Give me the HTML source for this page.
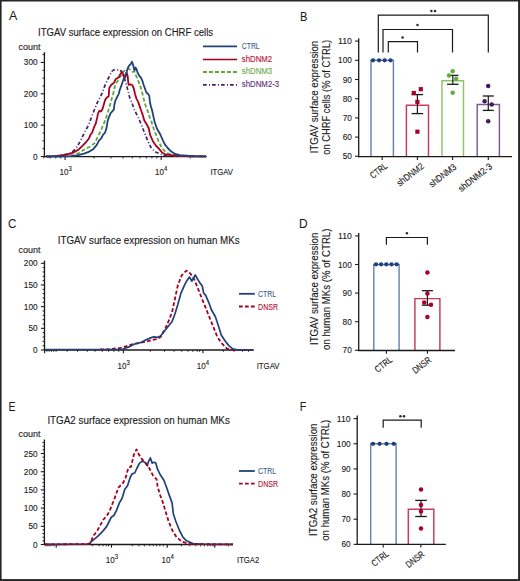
<!DOCTYPE html>
<html><head><meta charset="utf-8"><style>
html,body{margin:0;padding:0;background:#fff;}
body{width:520px;height:581px;overflow:hidden;}
svg{display:block;font-family:"Liberation Sans",sans-serif;}
</style></head><body>
<svg width="520" height="581" viewBox="0 0 520 581">
<rect width="520" height="581" fill="#fff"/>
<text x="9.00" y="20.40" font-size="12.4" fill="#1a1a1a" stroke="#1a1a1a" stroke-width="0.05" text-anchor="start">A</text>
<text x="38.10" y="35.70" font-size="10" fill="#1a1a1a" stroke="#1a1a1a" stroke-width="0.12" text-anchor="start" textLength="175.00" lengthAdjust="spacingAndGlyphs">ITGAV surface expression on CHRF cells</text>
<text x="18.40" y="49.60" font-size="9.2" fill="#1a1a1a" stroke="#1a1a1a" stroke-width="0.12" text-anchor="start" textLength="22.00" lengthAdjust="spacingAndGlyphs">count</text>
<line x1="44.40" y1="52.10" x2="44.40" y2="157.10" stroke="#1a1a1a" stroke-width="1.3"/>
<line x1="40.80" y1="156.50" x2="44.40" y2="156.50" stroke="#1a1a1a" stroke-width="1.1"/>
<text x="37.60" y="159.50" font-size="9.6" fill="#1a1a1a" stroke="#1a1a1a" stroke-width="0.12" text-anchor="end" textLength="4.60" lengthAdjust="spacingAndGlyphs">0</text>
<line x1="42.50" y1="148.66" x2="44.40" y2="148.66" stroke="#1a1a1a" stroke-width="1.0"/>
<line x1="42.50" y1="140.82" x2="44.40" y2="140.82" stroke="#1a1a1a" stroke-width="1.0"/>
<line x1="42.50" y1="132.99" x2="44.40" y2="132.99" stroke="#1a1a1a" stroke-width="1.0"/>
<line x1="40.80" y1="125.15" x2="44.40" y2="125.15" stroke="#1a1a1a" stroke-width="1.1"/>
<text x="37.60" y="128.15" font-size="9.6" fill="#1a1a1a" stroke="#1a1a1a" stroke-width="0.12" text-anchor="end" textLength="13.80" lengthAdjust="spacingAndGlyphs">100</text>
<line x1="42.50" y1="117.31" x2="44.40" y2="117.31" stroke="#1a1a1a" stroke-width="1.0"/>
<line x1="42.50" y1="109.47" x2="44.40" y2="109.47" stroke="#1a1a1a" stroke-width="1.0"/>
<line x1="42.50" y1="101.64" x2="44.40" y2="101.64" stroke="#1a1a1a" stroke-width="1.0"/>
<line x1="40.80" y1="93.80" x2="44.40" y2="93.80" stroke="#1a1a1a" stroke-width="1.1"/>
<text x="37.60" y="96.80" font-size="9.6" fill="#1a1a1a" stroke="#1a1a1a" stroke-width="0.12" text-anchor="end" textLength="13.80" lengthAdjust="spacingAndGlyphs">200</text>
<line x1="42.50" y1="85.96" x2="44.40" y2="85.96" stroke="#1a1a1a" stroke-width="1.0"/>
<line x1="42.50" y1="78.12" x2="44.40" y2="78.12" stroke="#1a1a1a" stroke-width="1.0"/>
<line x1="42.50" y1="70.29" x2="44.40" y2="70.29" stroke="#1a1a1a" stroke-width="1.0"/>
<line x1="40.80" y1="62.45" x2="44.40" y2="62.45" stroke="#1a1a1a" stroke-width="1.1"/>
<text x="37.60" y="65.45" font-size="9.6" fill="#1a1a1a" stroke="#1a1a1a" stroke-width="0.12" text-anchor="end" textLength="13.80" lengthAdjust="spacingAndGlyphs">300</text>
<line x1="42.50" y1="54.61" x2="44.40" y2="54.61" stroke="#1a1a1a" stroke-width="1.0"/>
<line x1="44.40" y1="156.70" x2="206.70" y2="156.70" stroke="#1a1a1a" stroke-width="1.3"/>
<line x1="65.10" y1="156.70" x2="65.10" y2="159.90" stroke="#1a1a1a" stroke-width="1.1"/>
<line x1="161.20" y1="156.70" x2="161.20" y2="159.90" stroke="#1a1a1a" stroke-width="1.1"/>
<line x1="43.78" y1="156.70" x2="43.78" y2="158.50" stroke="#1a1a1a" stroke-width="0.9"/>
<line x1="50.21" y1="156.70" x2="50.21" y2="158.50" stroke="#1a1a1a" stroke-width="0.9"/>
<line x1="55.79" y1="156.70" x2="55.79" y2="158.50" stroke="#1a1a1a" stroke-width="0.9"/>
<line x1="60.70" y1="156.70" x2="60.70" y2="158.50" stroke="#1a1a1a" stroke-width="0.9"/>
<line x1="94.03" y1="156.70" x2="94.03" y2="158.50" stroke="#1a1a1a" stroke-width="0.9"/>
<line x1="110.95" y1="156.70" x2="110.95" y2="158.50" stroke="#1a1a1a" stroke-width="0.9"/>
<line x1="122.96" y1="156.70" x2="122.96" y2="158.50" stroke="#1a1a1a" stroke-width="0.9"/>
<line x1="132.27" y1="156.70" x2="132.27" y2="158.50" stroke="#1a1a1a" stroke-width="0.9"/>
<line x1="139.88" y1="156.70" x2="139.88" y2="158.50" stroke="#1a1a1a" stroke-width="0.9"/>
<line x1="146.31" y1="156.70" x2="146.31" y2="158.50" stroke="#1a1a1a" stroke-width="0.9"/>
<line x1="151.89" y1="156.70" x2="151.89" y2="158.50" stroke="#1a1a1a" stroke-width="0.9"/>
<line x1="156.80" y1="156.70" x2="156.80" y2="158.50" stroke="#1a1a1a" stroke-width="0.9"/>
<line x1="190.13" y1="156.70" x2="190.13" y2="158.50" stroke="#1a1a1a" stroke-width="0.9"/>
<text x="59.60" y="174.80" font-size="9.4" fill="#1a1a1a" stroke="#1a1a1a" stroke-width="0.12" text-anchor="start" textLength="8.90" lengthAdjust="spacingAndGlyphs">10</text>
<text x="68.60" y="171.40" font-size="6.4" fill="#1a1a1a" stroke="#1a1a1a" stroke-width="0.12" text-anchor="start" textLength="3.30" lengthAdjust="spacingAndGlyphs">3</text>
<text x="155.00" y="174.80" font-size="9.4" fill="#1a1a1a" stroke="#1a1a1a" stroke-width="0.12" text-anchor="start" textLength="8.90" lengthAdjust="spacingAndGlyphs">10</text>
<text x="164.00" y="171.40" font-size="6.4" fill="#1a1a1a" stroke="#1a1a1a" stroke-width="0.12" text-anchor="start" textLength="3.30" lengthAdjust="spacingAndGlyphs">4</text>
<text x="210.40" y="174.80" font-size="9.2" fill="#1a1a1a" stroke="#1a1a1a" stroke-width="0.12" text-anchor="start" textLength="22.60" lengthAdjust="spacingAndGlyphs">ITGAV</text>
<polyline points="46.0,156.4 50.4,156.3 58.5,155.7 66.5,154.3 71.9,152.3 76.0,148.3 79.3,142.9 82.7,136.2 85.4,130.8 87.5,127.0 88.9,124.6 90.9,118.8 92.8,113.6 94.7,109.2 96.6,104.4 98.6,99.6 100.5,96.7 102.9,91.4 103.7,88.7 105.6,83.8 108.0,79.0 110.4,74.2 112.3,70.9 113.8,69.9 116.2,69.9 119.0,69.9 120.5,70.9 121.9,71.3 122.9,73.8 123.8,77.1 125.3,81.0 126.7,85.8 127.7,89.6 129.6,97.3 132.0,103.1 134.4,109.8 136.8,114.6 139.2,119.4 140.1,121.7 142.8,128.5 145.5,135.2 148.2,141.9 151.5,148.6 155.6,152.0 160.3,154.0 163.6,155.4 175.0,156.2 206.0,156.4" fill="none" stroke="#4a1f6e" stroke-width="1.7" stroke-linejoin="round" stroke-dasharray="3.7,2.3,1.0,2.0"/>
<polyline points="46.0,156.4 60.0,156.3 67.9,156.1 74.6,155.0 80.0,152.3 85.4,148.9 90.8,146.2 94.8,142.9 96.8,138.8 98.8,134.8 100.9,130.8 102.9,125.4 103.8,123.7 105.8,118.8 107.2,114.0 108.7,109.2 110.1,104.4 111.5,99.6 113.0,94.8 114.2,88.7 115.7,83.8 117.6,81.0 120.0,77.1 121.9,74.2 123.8,71.3 125.8,69.4 128.2,68.5 130.6,69.9 132.5,71.8 134.4,71.3 136.3,76.2 138.3,81.0 139.9,84.8 141.6,90.6 143.1,96.3 144.5,102.1 146.0,106.9 147.9,111.7 149.8,117.5 150.8,119.9 151.5,121.7 153.6,128.5 156.2,135.2 158.9,141.9 162.3,148.6 166.3,152.7 171.7,154.7 177.1,155.6 190.0,156.2 206.0,156.4" fill="none" stroke="#5fa838" stroke-width="1.8" stroke-linejoin="round" stroke-dasharray="3.9,2.2"/>
<polyline points="46.0,156.4 55.8,156.1 63.8,155.0 70.6,153.6 75.3,151.6 79.3,148.9 82.7,145.6 86.0,142.2 88.7,138.8 90.8,134.1 92.1,132.8 93.5,128.7 95.0,125.0 95.7,123.7 97.1,117.9 98.1,113.1 99.5,110.7 101.0,111.6 102.4,109.2 103.8,104.4 105.3,99.6 106.7,97.7 108.7,96.3 109.1,90.0 109.4,87.7 111.3,84.8 112.8,83.8 114.2,82.4 115.7,79.0 117.6,78.1 119.0,77.1 120.2,74.2 121.7,72.3 122.9,73.8 123.8,76.6 124.8,78.1 125.8,75.2 126.7,72.8 127.7,76.2 128.2,81.9 128.7,84.8 130.6,84.3 132.5,85.3 133.9,88.7 134.9,93.5 136.3,98.3 138.3,102.1 139.7,106.4 141.2,110.8 142.6,114.6 144.0,119.4 144.3,120.4 146.8,124.4 148.8,128.5 150.2,135.2 152.9,141.2 156.2,146.0 158.9,148.6 162.3,152.7 166.3,154.7 173.1,155.4 181.1,155.8 195.0,156.3 206.0,156.4" fill="none" stroke="#a6001f" stroke-width="1.8" stroke-linejoin="round"/>
<polyline points="46.0,156.5 60.0,156.3 70.6,156.1 77.3,155.3 84.0,153.6 89.4,151.6 93.5,148.9 96.8,144.9 98.8,140.9 101.5,138.2 102.9,134.8 104.9,132.8 106.2,129.4 106.9,125.6 107.7,120.8 109.1,116.9 110.6,113.1 112.5,111.2 113.9,109.2 114.4,104.4 115.4,100.6 117.3,96.7 118.8,93.8 119.7,90.0 121.0,86.7 122.9,81.0 124.8,76.2 126.7,71.8 128.2,67.0 129.6,65.1 131.1,63.7 132.0,61.7 133.0,64.6 134.4,70.4 135.4,67.5 136.3,68.5 137.3,71.8 139.2,75.7 141.2,78.1 142.6,81.4 143.6,84.8 145.0,88.7 146.4,92.5 148.4,94.4 149.3,95.9 149.8,101.2 150.8,106.0 152.2,110.8 153.2,115.6 154.1,119.4 154.6,121.7 156.9,128.5 160.3,134.5 163.0,140.6 165.0,144.6 167.7,148.0 171.0,151.3 175.1,154.0 179.8,155.1 186.5,155.6 195.0,156.2 206.0,156.4" fill="none" stroke="#21417a" stroke-width="1.8" stroke-linejoin="round"/>
<line x1="203.00" y1="46.30" x2="237.00" y2="46.30" stroke="#21417a" stroke-width="1.7"/>
<line x1="203.00" y1="59.50" x2="237.00" y2="59.50" stroke="#a6001f" stroke-width="1.7"/>
<line x1="203.00" y1="72.00" x2="237.00" y2="72.00" stroke="#5fa838" stroke-width="1.8" stroke-dasharray="3.9,2.1"/>
<line x1="203.00" y1="84.90" x2="237.00" y2="84.90" stroke="#4a1f6e" stroke-width="1.7" stroke-dasharray="3.7,2.3,1.0,2.0"/>
<text x="241.80" y="49.40" font-size="8.8" fill="#3d5d96" stroke="#3d5d96" stroke-width="0.12" text-anchor="start" textLength="17.80" lengthAdjust="spacingAndGlyphs">CTRL</text>
<text x="241.80" y="61.60" font-size="8.8" fill="#b5123a" stroke="#b5123a" stroke-width="0.12" text-anchor="start" textLength="30.40" lengthAdjust="spacingAndGlyphs">shDNM2</text>
<text x="241.80" y="74.40" font-size="8.8" fill="#6cac4c" stroke="#6cac4c" stroke-width="0.12" text-anchor="start" textLength="30.40" lengthAdjust="spacingAndGlyphs">shDNM3</text>
<text x="241.80" y="87.30" font-size="8.8" fill="#5a2f7c" stroke="#5a2f7c" stroke-width="0.12" text-anchor="start" textLength="37.40" lengthAdjust="spacingAndGlyphs">shDNM2-3</text>
<text x="299.90" y="20.60" font-size="12.4" fill="#1a1a1a" stroke="#1a1a1a" stroke-width="0.05" text-anchor="start" textLength="7.40" lengthAdjust="spacingAndGlyphs">B</text>
<line x1="358.70" y1="38.30" x2="358.70" y2="157.30" stroke="#1a1a1a" stroke-width="1.3"/>
<line x1="355.10" y1="41.10" x2="358.70" y2="41.10" stroke="#1a1a1a" stroke-width="1.1"/>
<text x="351.90" y="44.10" font-size="9.6" fill="#1a1a1a" stroke="#1a1a1a" stroke-width="0.12" text-anchor="end" textLength="13.80" lengthAdjust="spacingAndGlyphs">110</text>
<line x1="355.10" y1="60.30" x2="358.70" y2="60.30" stroke="#1a1a1a" stroke-width="1.1"/>
<text x="351.90" y="63.30" font-size="9.6" fill="#1a1a1a" stroke="#1a1a1a" stroke-width="0.12" text-anchor="end" textLength="13.80" lengthAdjust="spacingAndGlyphs">100</text>
<line x1="355.10" y1="79.50" x2="358.70" y2="79.50" stroke="#1a1a1a" stroke-width="1.1"/>
<text x="351.90" y="82.50" font-size="9.6" fill="#1a1a1a" stroke="#1a1a1a" stroke-width="0.12" text-anchor="end" textLength="9.20" lengthAdjust="spacingAndGlyphs">90</text>
<line x1="355.10" y1="98.70" x2="358.70" y2="98.70" stroke="#1a1a1a" stroke-width="1.1"/>
<text x="351.90" y="101.70" font-size="9.6" fill="#1a1a1a" stroke="#1a1a1a" stroke-width="0.12" text-anchor="end" textLength="9.20" lengthAdjust="spacingAndGlyphs">80</text>
<line x1="355.10" y1="117.90" x2="358.70" y2="117.90" stroke="#1a1a1a" stroke-width="1.1"/>
<text x="351.90" y="120.90" font-size="9.6" fill="#1a1a1a" stroke="#1a1a1a" stroke-width="0.12" text-anchor="end" textLength="9.20" lengthAdjust="spacingAndGlyphs">70</text>
<line x1="355.10" y1="137.10" x2="358.70" y2="137.10" stroke="#1a1a1a" stroke-width="1.1"/>
<text x="351.90" y="140.10" font-size="9.6" fill="#1a1a1a" stroke="#1a1a1a" stroke-width="0.12" text-anchor="end" textLength="9.20" lengthAdjust="spacingAndGlyphs">60</text>
<line x1="355.10" y1="156.30" x2="358.70" y2="156.30" stroke="#1a1a1a" stroke-width="1.1"/>
<text x="351.90" y="159.30" font-size="9.6" fill="#1a1a1a" stroke="#1a1a1a" stroke-width="0.12" text-anchor="end" textLength="9.20" lengthAdjust="spacingAndGlyphs">50</text>
<path d="M371,156.7 V60.3 H393.4 V156.7" fill="none" stroke="#6a84b0" stroke-width="1.45"/>
<path d="M406.4,156.7 V105.3 H428.5 V156.7" fill="none" stroke="#c63a5e" stroke-width="1.45"/>
<path d="M442.0,156.7 V80.8 H463.5 V156.7" fill="none" stroke="#8cc46c" stroke-width="1.45"/>
<path d="M477.2,156.7 V104.4 H499.4 V156.7" fill="none" stroke="#7d5a98" stroke-width="1.45"/>
<line x1="358.10" y1="156.70" x2="512.00" y2="156.70" stroke="#1a1a1a" stroke-width="1.3"/>
<line x1="382.20" y1="156.70" x2="382.20" y2="159.90" stroke="#1a1a1a" stroke-width="1.1"/>
<line x1="417.40" y1="156.70" x2="417.40" y2="159.90" stroke="#1a1a1a" stroke-width="1.1"/>
<line x1="452.60" y1="156.70" x2="452.60" y2="159.90" stroke="#1a1a1a" stroke-width="1.1"/>
<line x1="488.30" y1="156.70" x2="488.30" y2="159.90" stroke="#1a1a1a" stroke-width="1.1"/>
<circle cx="373" cy="60.3" r="2.15" fill="#1d3f7c"/>
<circle cx="379.1" cy="60.3" r="2.15" fill="#1d3f7c"/>
<circle cx="384.7" cy="60.3" r="2.15" fill="#1d3f7c"/>
<circle cx="390.5" cy="60.3" r="2.15" fill="#1d3f7c"/>
<line x1="417.40" y1="94.60" x2="417.40" y2="113.60" stroke="#1a1a1a" stroke-width="1.2"/>
<line x1="411.65" y1="94.60" x2="423.15" y2="94.60" stroke="#1a1a1a" stroke-width="1.3"/>
<line x1="411.65" y1="113.60" x2="423.15" y2="113.60" stroke="#1a1a1a" stroke-width="1.3"/>
<rect x="411.7" y="90.9" width="4.2" height="4.2" fill="#a8002a"/>
<rect x="418.7" y="87.10000000000001" width="4.2" height="4.2" fill="#a8002a"/>
<rect x="415.29999999999995" y="99.80000000000001" width="4.2" height="4.2" fill="#a8002a"/>
<rect x="415.29999999999995" y="129.6" width="4.2" height="4.2" fill="#a8002a"/>
<line x1="452.80" y1="75.40" x2="452.80" y2="84.30" stroke="#1a1a1a" stroke-width="1.2"/>
<line x1="447.10" y1="75.40" x2="458.50" y2="75.40" stroke="#1a1a1a" stroke-width="1.3"/>
<line x1="447.10" y1="84.30" x2="458.50" y2="84.30" stroke="#1a1a1a" stroke-width="1.3"/>
<circle cx="452.7" cy="71.2" r="2.25" fill="#5fae3e"/>
<circle cx="449" cy="75.4" r="2.25" fill="#5fae3e"/>
<circle cx="456.2" cy="78.7" r="2.25" fill="#5fae3e"/>
<circle cx="452.7" cy="92.7" r="2.25" fill="#5fae3e"/>
<line x1="488.30" y1="96.00" x2="488.30" y2="110.40" stroke="#1a1a1a" stroke-width="1.2"/>
<line x1="482.80" y1="96.00" x2="493.80" y2="96.00" stroke="#1a1a1a" stroke-width="1.3"/>
<line x1="482.80" y1="110.40" x2="493.80" y2="110.40" stroke="#1a1a1a" stroke-width="1.3"/>
<circle cx="488.2" cy="86" r="2.25" fill="#44185f"/>
<circle cx="484.6" cy="101.3" r="2.25" fill="#44185f"/>
<circle cx="491.7" cy="104.6" r="2.25" fill="#44185f"/>
<circle cx="488.2" cy="121.2" r="2.25" fill="#44185f"/>
<path d="M378.3,52.5 V15.1 H488.3 V52.5" fill="none" stroke="#1a1a1a" stroke-width="1.2"/>
<path d="M383.0,52.5 V29.5 H452.5 V52.5" fill="none" stroke="#1a1a1a" stroke-width="1.2"/>
<path d="M388.3,52.5 V41.6 H417.5 V52.5" fill="none" stroke="#1a1a1a" stroke-width="1.2"/>
<circle cx="431.40" cy="10.9" r="1.25" fill="#2a2a2a"/>
<circle cx="435.00" cy="10.9" r="1.25" fill="#2a2a2a"/>
<circle cx="417.50" cy="25.0" r="1.25" fill="#2a2a2a"/>
<circle cx="402.60" cy="37.4" r="1.25" fill="#2a2a2a"/>
<text transform="translate(388.0,167.35) rotate(-38)" font-size="9.4" fill="#1a1a1a" stroke="#1a1a1a" stroke-width="0.12" text-anchor="end" textLength="18.92" lengthAdjust="spacingAndGlyphs">CTRL</text>
<text transform="translate(424.5,167.45) rotate(-38)" font-size="9.4" fill="#1a1a1a" stroke="#1a1a1a" stroke-width="0.12" text-anchor="end" textLength="31.53" lengthAdjust="spacingAndGlyphs">shDNM2</text>
<text transform="translate(457.05,168.15) rotate(-38)" font-size="9.4" fill="#1a1a1a" stroke="#1a1a1a" stroke-width="0.12" text-anchor="end" textLength="31.85" lengthAdjust="spacingAndGlyphs">shDNM3</text>
<text transform="translate(492.85,167.65) rotate(-38)" font-size="9.4" fill="#1a1a1a" stroke="#1a1a1a" stroke-width="0.12" text-anchor="end" textLength="40.09" lengthAdjust="spacingAndGlyphs">shDNM2-3</text>
<text transform="translate(318.2,97.05) rotate(-90)" font-size="10.4" fill="#1a1a1a" stroke="#1a1a1a" stroke-width="0.12" text-anchor="middle" textLength="112.60" lengthAdjust="spacingAndGlyphs">ITGAV surface expression</text>
<text transform="translate(330.3,97.4) rotate(-90)" font-size="10.4" fill="#1a1a1a" stroke="#1a1a1a" stroke-width="0.12" text-anchor="middle" textLength="114.80" lengthAdjust="spacingAndGlyphs">on CHRF cells (% of CTRL)</text>
<text x="8.00" y="228.30" font-size="12.4" fill="#1a1a1a" stroke="#1a1a1a" stroke-width="0.05" text-anchor="start" textLength="8.40" lengthAdjust="spacingAndGlyphs">C</text>
<text x="57.70" y="244.10" font-size="10" fill="#1a1a1a" stroke="#1a1a1a" stroke-width="0.12" text-anchor="start" textLength="182.00" lengthAdjust="spacingAndGlyphs">ITGAV surface expression on human MKs</text>
<text x="18.40" y="252.70" font-size="9.2" fill="#1a1a1a" stroke="#1a1a1a" stroke-width="0.12" text-anchor="start" textLength="22.00" lengthAdjust="spacingAndGlyphs">count</text>
<line x1="44.50" y1="260.60" x2="44.50" y2="350.60" stroke="#1a1a1a" stroke-width="1.3"/>
<line x1="40.90" y1="350.00" x2="44.50" y2="350.00" stroke="#1a1a1a" stroke-width="1.1"/>
<text x="37.60" y="353.00" font-size="9.6" fill="#1a1a1a" stroke="#1a1a1a" stroke-width="0.12" text-anchor="end" textLength="4.60" lengthAdjust="spacingAndGlyphs">0</text>
<line x1="42.60" y1="345.67" x2="44.50" y2="345.67" stroke="#1a1a1a" stroke-width="1.0"/>
<line x1="42.60" y1="341.33" x2="44.50" y2="341.33" stroke="#1a1a1a" stroke-width="1.0"/>
<line x1="42.60" y1="337.00" x2="44.50" y2="337.00" stroke="#1a1a1a" stroke-width="1.0"/>
<line x1="42.60" y1="332.66" x2="44.50" y2="332.66" stroke="#1a1a1a" stroke-width="1.0"/>
<line x1="40.90" y1="328.32" x2="44.50" y2="328.32" stroke="#1a1a1a" stroke-width="1.1"/>
<text x="37.60" y="331.32" font-size="9.6" fill="#1a1a1a" stroke="#1a1a1a" stroke-width="0.12" text-anchor="end" textLength="9.20" lengthAdjust="spacingAndGlyphs">50</text>
<line x1="42.60" y1="323.99" x2="44.50" y2="323.99" stroke="#1a1a1a" stroke-width="1.0"/>
<line x1="42.60" y1="319.65" x2="44.50" y2="319.65" stroke="#1a1a1a" stroke-width="1.0"/>
<line x1="42.60" y1="315.32" x2="44.50" y2="315.32" stroke="#1a1a1a" stroke-width="1.0"/>
<line x1="42.60" y1="310.99" x2="44.50" y2="310.99" stroke="#1a1a1a" stroke-width="1.0"/>
<line x1="40.90" y1="306.65" x2="44.50" y2="306.65" stroke="#1a1a1a" stroke-width="1.1"/>
<text x="37.60" y="309.65" font-size="9.6" fill="#1a1a1a" stroke="#1a1a1a" stroke-width="0.12" text-anchor="end" textLength="13.80" lengthAdjust="spacingAndGlyphs">100</text>
<line x1="42.60" y1="302.31" x2="44.50" y2="302.31" stroke="#1a1a1a" stroke-width="1.0"/>
<line x1="42.60" y1="297.98" x2="44.50" y2="297.98" stroke="#1a1a1a" stroke-width="1.0"/>
<line x1="42.60" y1="293.64" x2="44.50" y2="293.64" stroke="#1a1a1a" stroke-width="1.0"/>
<line x1="42.60" y1="289.31" x2="44.50" y2="289.31" stroke="#1a1a1a" stroke-width="1.0"/>
<line x1="40.90" y1="284.98" x2="44.50" y2="284.98" stroke="#1a1a1a" stroke-width="1.1"/>
<text x="37.60" y="287.98" font-size="9.6" fill="#1a1a1a" stroke="#1a1a1a" stroke-width="0.12" text-anchor="end" textLength="13.80" lengthAdjust="spacingAndGlyphs">150</text>
<line x1="42.60" y1="280.64" x2="44.50" y2="280.64" stroke="#1a1a1a" stroke-width="1.0"/>
<line x1="42.60" y1="276.31" x2="44.50" y2="276.31" stroke="#1a1a1a" stroke-width="1.0"/>
<line x1="42.60" y1="271.97" x2="44.50" y2="271.97" stroke="#1a1a1a" stroke-width="1.0"/>
<line x1="42.60" y1="267.63" x2="44.50" y2="267.63" stroke="#1a1a1a" stroke-width="1.0"/>
<line x1="40.90" y1="263.30" x2="44.50" y2="263.30" stroke="#1a1a1a" stroke-width="1.1"/>
<text x="37.60" y="266.30" font-size="9.6" fill="#1a1a1a" stroke="#1a1a1a" stroke-width="0.12" text-anchor="end" textLength="13.80" lengthAdjust="spacingAndGlyphs">200</text>
<line x1="44.50" y1="350.00" x2="253.50" y2="350.00" stroke="#1a1a1a" stroke-width="1.3"/>
<line x1="44.60" y1="350.00" x2="44.60" y2="353.20" stroke="#1a1a1a" stroke-width="1.1"/>
<line x1="123.40" y1="350.00" x2="123.40" y2="353.20" stroke="#1a1a1a" stroke-width="1.1"/>
<line x1="202.90" y1="350.00" x2="202.90" y2="353.20" stroke="#1a1a1a" stroke-width="1.1"/>
<line x1="46.90" y1="350.00" x2="46.90" y2="351.80" stroke="#1a1a1a" stroke-width="0.9"/>
<line x1="49.20" y1="350.00" x2="49.20" y2="351.80" stroke="#1a1a1a" stroke-width="0.9"/>
<line x1="51.50" y1="350.00" x2="51.50" y2="351.80" stroke="#1a1a1a" stroke-width="0.9"/>
<line x1="53.80" y1="350.00" x2="53.80" y2="351.80" stroke="#1a1a1a" stroke-width="0.9"/>
<line x1="56.10" y1="350.00" x2="56.10" y2="351.80" stroke="#1a1a1a" stroke-width="0.9"/>
<line x1="67.10" y1="350.00" x2="67.10" y2="351.80" stroke="#1a1a1a" stroke-width="0.9"/>
<line x1="77.50" y1="350.00" x2="77.50" y2="351.80" stroke="#1a1a1a" stroke-width="0.9"/>
<line x1="87.30" y1="350.00" x2="87.30" y2="351.80" stroke="#1a1a1a" stroke-width="0.9"/>
<line x1="95.10" y1="350.00" x2="95.10" y2="351.80" stroke="#1a1a1a" stroke-width="0.9"/>
<line x1="102.30" y1="350.00" x2="102.30" y2="351.80" stroke="#1a1a1a" stroke-width="0.9"/>
<line x1="108.60" y1="350.00" x2="108.60" y2="351.80" stroke="#1a1a1a" stroke-width="0.9"/>
<line x1="113.80" y1="350.00" x2="113.80" y2="351.80" stroke="#1a1a1a" stroke-width="0.9"/>
<line x1="118.70" y1="350.00" x2="118.70" y2="351.80" stroke="#1a1a1a" stroke-width="0.9"/>
<line x1="150.30" y1="350.00" x2="150.30" y2="351.80" stroke="#1a1a1a" stroke-width="0.9"/>
<line x1="164.40" y1="350.00" x2="164.40" y2="351.80" stroke="#1a1a1a" stroke-width="0.9"/>
<line x1="174.10" y1="350.00" x2="174.10" y2="351.80" stroke="#1a1a1a" stroke-width="0.9"/>
<line x1="181.80" y1="350.00" x2="181.80" y2="351.80" stroke="#1a1a1a" stroke-width="0.9"/>
<line x1="188.10" y1="350.00" x2="188.10" y2="351.80" stroke="#1a1a1a" stroke-width="0.9"/>
<line x1="192.90" y1="350.00" x2="192.90" y2="351.80" stroke="#1a1a1a" stroke-width="0.9"/>
<line x1="197.20" y1="350.00" x2="197.20" y2="351.80" stroke="#1a1a1a" stroke-width="0.9"/>
<line x1="199.60" y1="350.00" x2="199.60" y2="351.80" stroke="#1a1a1a" stroke-width="0.9"/>
<line x1="223.40" y1="350.00" x2="223.40" y2="351.80" stroke="#1a1a1a" stroke-width="0.9"/>
<line x1="234.00" y1="350.00" x2="234.00" y2="351.80" stroke="#1a1a1a" stroke-width="0.9"/>
<line x1="242.40" y1="350.00" x2="242.40" y2="351.80" stroke="#1a1a1a" stroke-width="0.9"/>
<line x1="248.50" y1="350.00" x2="248.50" y2="351.80" stroke="#1a1a1a" stroke-width="0.9"/>
<text x="117.50" y="368.50" font-size="9.4" fill="#1a1a1a" stroke="#1a1a1a" stroke-width="0.12" text-anchor="start" textLength="8.90" lengthAdjust="spacingAndGlyphs">10</text>
<text x="126.50" y="365.10" font-size="6.4" fill="#1a1a1a" stroke="#1a1a1a" stroke-width="0.12" text-anchor="start" textLength="3.30" lengthAdjust="spacingAndGlyphs">3</text>
<text x="196.80" y="368.50" font-size="9.4" fill="#1a1a1a" stroke="#1a1a1a" stroke-width="0.12" text-anchor="start" textLength="8.90" lengthAdjust="spacingAndGlyphs">10</text>
<text x="205.80" y="365.10" font-size="6.4" fill="#1a1a1a" stroke="#1a1a1a" stroke-width="0.12" text-anchor="start" textLength="3.30" lengthAdjust="spacingAndGlyphs">4</text>
<text x="256.70" y="368.60" font-size="9.2" fill="#1a1a1a" stroke="#1a1a1a" stroke-width="0.12" text-anchor="start" textLength="22.80" lengthAdjust="spacingAndGlyphs">ITGAV</text>
<polyline points="100.0,349.5 106.9,349.5 113.8,348.6 119.6,348.1 124.2,346.9 128.8,345.2 134.6,343.7 140.4,342.9 146.1,341.7 151.9,340.0 156.7,339.2 160.6,336.9 165.4,328.3 169.2,319.6 172.1,311.9 175.0,298.5 177.9,285.0 181.7,275.4 186.5,270.6 190.4,273.5 194.2,279.2 198.1,288.8 201.9,298.5 205.8,308.1 209.6,317.7 213.5,327.3 217.3,336.9 221.2,342.7 226.9,348.5 232.7,350.0 253.7,350.0" fill="none" stroke="#a6001f" stroke-width="1.8" stroke-linejoin="round" stroke-dasharray="3.8,2.2"/>
<polyline points="45.0,349.5 100.0,349.5 117.3,349.5 123.1,349.0 128.8,346.9 134.6,344.0 139.2,342.9 141.5,342.3 146.1,339.8 150.7,337.9 153.8,336.9 157.7,337.3 160.6,336.0 164.4,331.2 168.3,326.3 172.1,321.5 175.0,313.8 177.9,304.2 180.8,293.7 183.7,286.9 186.5,281.2 189.4,276.9 191.9,281.2 195.2,275.0 197.7,279.2 200.0,283.1 202.3,286.0 203.5,292.7 205.8,295.6 208.7,302.3 211.5,310.0 215.4,316.7 218.3,325.4 221.2,335.0 225.0,340.8 228.8,345.6 232.7,348.8 238.5,350.0 253.7,350.0" fill="none" stroke="#21417a" stroke-width="1.7" stroke-linejoin="round"/>
<line x1="239.00" y1="293.80" x2="254.80" y2="293.80" stroke="#21417a" stroke-width="1.8"/>
<line x1="239.00" y1="306.50" x2="254.80" y2="306.50" stroke="#a6001f" stroke-width="1.8" stroke-dasharray="3.7,2.3"/>
<text x="258.10" y="296.80" font-size="8.8" fill="#3d5d96" stroke="#3d5d96" stroke-width="0.12" text-anchor="start" textLength="18.00" lengthAdjust="spacingAndGlyphs">CTRL</text>
<text x="258.10" y="309.50" font-size="8.8" fill="#b5123a" stroke="#b5123a" stroke-width="0.12" text-anchor="start" textLength="20.00" lengthAdjust="spacingAndGlyphs">DNSR</text>
<text x="299.10" y="227.80" font-size="12.4" fill="#1a1a1a" stroke="#1a1a1a" stroke-width="0.05" text-anchor="start" textLength="8.60" lengthAdjust="spacingAndGlyphs">D</text>
<line x1="358.70" y1="232.90" x2="358.70" y2="351.10" stroke="#1a1a1a" stroke-width="1.3"/>
<line x1="355.10" y1="235.90" x2="358.70" y2="235.90" stroke="#1a1a1a" stroke-width="1.1"/>
<text x="351.80" y="238.90" font-size="9.6" fill="#1a1a1a" stroke="#1a1a1a" stroke-width="0.12" text-anchor="end" textLength="13.80" lengthAdjust="spacingAndGlyphs">110</text>
<line x1="355.10" y1="264.50" x2="358.70" y2="264.50" stroke="#1a1a1a" stroke-width="1.1"/>
<text x="351.80" y="267.50" font-size="9.6" fill="#1a1a1a" stroke="#1a1a1a" stroke-width="0.12" text-anchor="end" textLength="13.80" lengthAdjust="spacingAndGlyphs">100</text>
<line x1="355.10" y1="293.10" x2="358.70" y2="293.10" stroke="#1a1a1a" stroke-width="1.1"/>
<text x="351.80" y="296.10" font-size="9.6" fill="#1a1a1a" stroke="#1a1a1a" stroke-width="0.12" text-anchor="end" textLength="9.20" lengthAdjust="spacingAndGlyphs">90</text>
<line x1="355.10" y1="321.70" x2="358.70" y2="321.70" stroke="#1a1a1a" stroke-width="1.1"/>
<text x="351.80" y="324.70" font-size="9.6" fill="#1a1a1a" stroke="#1a1a1a" stroke-width="0.12" text-anchor="end" textLength="9.20" lengthAdjust="spacingAndGlyphs">80</text>
<line x1="355.10" y1="350.30" x2="358.70" y2="350.30" stroke="#1a1a1a" stroke-width="1.1"/>
<text x="351.80" y="353.30" font-size="9.6" fill="#1a1a1a" stroke="#1a1a1a" stroke-width="0.12" text-anchor="end" textLength="9.20" lengthAdjust="spacingAndGlyphs">70</text>
<path d="M373.8,350.5 V264.5 H399.1 V350.5" fill="none" stroke="#6a84b0" stroke-width="1.45"/>
<path d="M414.9,350.5 V298.6 H439.9 V350.5" fill="none" stroke="#c63a5e" stroke-width="1.45"/>
<line x1="358.10" y1="350.50" x2="455.00" y2="350.50" stroke="#1a1a1a" stroke-width="1.3"/>
<line x1="386.40" y1="350.50" x2="386.40" y2="353.70" stroke="#1a1a1a" stroke-width="1.1"/>
<line x1="427.40" y1="350.50" x2="427.40" y2="353.70" stroke="#1a1a1a" stroke-width="1.1"/>
<circle cx="376" cy="264.3" r="2.15" fill="#1d3f7c"/>
<circle cx="381.1" cy="264.3" r="2.15" fill="#1d3f7c"/>
<circle cx="386.3" cy="264.3" r="2.15" fill="#1d3f7c"/>
<circle cx="391.5" cy="264.3" r="2.15" fill="#1d3f7c"/>
<circle cx="396.6" cy="264.3" r="2.15" fill="#1d3f7c"/>
<line x1="427.40" y1="290.70" x2="427.40" y2="305.20" stroke="#1a1a1a" stroke-width="1.2"/>
<line x1="421.90" y1="290.70" x2="432.90" y2="290.70" stroke="#1a1a1a" stroke-width="1.3"/>
<line x1="421.90" y1="305.20" x2="432.90" y2="305.20" stroke="#1a1a1a" stroke-width="1.3"/>
<circle cx="427.4" cy="272.4" r="2.25" fill="#a8002a"/>
<circle cx="427.4" cy="293.4" r="2.25" fill="#a8002a"/>
<circle cx="424.2" cy="302.5" r="2.25" fill="#a8002a"/>
<circle cx="431" cy="304.8" r="2.25" fill="#a8002a"/>
<circle cx="427.4" cy="316.9" r="2.25" fill="#a8002a"/>
<path d="M386.4,244.8 V237.5 H427.4 V244.8" fill="none" stroke="#1a1a1a" stroke-width="1.2"/>
<circle cx="406.90" cy="233.3" r="1.25" fill="#2a2a2a"/>
<text transform="translate(392.85,361.05) rotate(-38)" font-size="9.4" fill="#1a1a1a" stroke="#1a1a1a" stroke-width="0.12" text-anchor="end" textLength="19.23" lengthAdjust="spacingAndGlyphs">CTRL</text>
<text transform="translate(431.85,361.15) rotate(-38)" font-size="9.4" fill="#1a1a1a" stroke="#1a1a1a" stroke-width="0.12" text-anchor="end" textLength="20.83" lengthAdjust="spacingAndGlyphs">DNSR</text>
<text transform="translate(318.1,288.85) rotate(-90)" font-size="10.4" fill="#1a1a1a" stroke="#1a1a1a" stroke-width="0.12" text-anchor="middle" textLength="112.40" lengthAdjust="spacingAndGlyphs">ITGAV surface expression</text>
<text transform="translate(330.3,289.25) rotate(-90)" font-size="10.4" fill="#1a1a1a" stroke="#1a1a1a" stroke-width="0.12" text-anchor="middle" textLength="121.40" lengthAdjust="spacingAndGlyphs">on human MKs (% of CTRL)</text>
<text x="8.60" y="410.80" font-size="12.4" fill="#1a1a1a" stroke="#1a1a1a" stroke-width="0.05" text-anchor="start" textLength="7.00" lengthAdjust="spacingAndGlyphs">E</text>
<text x="47.40" y="423.50" font-size="10" fill="#1a1a1a" stroke="#1a1a1a" stroke-width="0.12" text-anchor="start" textLength="182.40" lengthAdjust="spacingAndGlyphs">ITGA2 surface expression on human MKs</text>
<text x="18.40" y="437.00" font-size="9.2" fill="#1a1a1a" stroke="#1a1a1a" stroke-width="0.12" text-anchor="start" textLength="22.00" lengthAdjust="spacingAndGlyphs">count</text>
<line x1="44.40" y1="439.50" x2="44.40" y2="545.10" stroke="#1a1a1a" stroke-width="1.3"/>
<line x1="40.80" y1="544.50" x2="44.40" y2="544.50" stroke="#1a1a1a" stroke-width="1.1"/>
<text x="37.60" y="547.50" font-size="9.6" fill="#1a1a1a" stroke="#1a1a1a" stroke-width="0.12" text-anchor="end" textLength="4.60" lengthAdjust="spacingAndGlyphs">0</text>
<line x1="42.50" y1="540.86" x2="44.40" y2="540.86" stroke="#1a1a1a" stroke-width="1.0"/>
<line x1="42.50" y1="537.22" x2="44.40" y2="537.22" stroke="#1a1a1a" stroke-width="1.0"/>
<line x1="42.50" y1="533.58" x2="44.40" y2="533.58" stroke="#1a1a1a" stroke-width="1.0"/>
<line x1="42.50" y1="529.94" x2="44.40" y2="529.94" stroke="#1a1a1a" stroke-width="1.0"/>
<line x1="40.80" y1="526.30" x2="44.40" y2="526.30" stroke="#1a1a1a" stroke-width="1.1"/>
<text x="37.60" y="529.30" font-size="9.6" fill="#1a1a1a" stroke="#1a1a1a" stroke-width="0.12" text-anchor="end" textLength="9.20" lengthAdjust="spacingAndGlyphs">50</text>
<line x1="42.50" y1="522.66" x2="44.40" y2="522.66" stroke="#1a1a1a" stroke-width="1.0"/>
<line x1="42.50" y1="519.02" x2="44.40" y2="519.02" stroke="#1a1a1a" stroke-width="1.0"/>
<line x1="42.50" y1="515.38" x2="44.40" y2="515.38" stroke="#1a1a1a" stroke-width="1.0"/>
<line x1="42.50" y1="511.74" x2="44.40" y2="511.74" stroke="#1a1a1a" stroke-width="1.0"/>
<line x1="40.80" y1="508.10" x2="44.40" y2="508.10" stroke="#1a1a1a" stroke-width="1.1"/>
<text x="37.60" y="511.10" font-size="9.6" fill="#1a1a1a" stroke="#1a1a1a" stroke-width="0.12" text-anchor="end" textLength="13.80" lengthAdjust="spacingAndGlyphs">100</text>
<line x1="42.50" y1="504.46" x2="44.40" y2="504.46" stroke="#1a1a1a" stroke-width="1.0"/>
<line x1="42.50" y1="500.82" x2="44.40" y2="500.82" stroke="#1a1a1a" stroke-width="1.0"/>
<line x1="42.50" y1="497.18" x2="44.40" y2="497.18" stroke="#1a1a1a" stroke-width="1.0"/>
<line x1="42.50" y1="493.54" x2="44.40" y2="493.54" stroke="#1a1a1a" stroke-width="1.0"/>
<line x1="40.80" y1="489.90" x2="44.40" y2="489.90" stroke="#1a1a1a" stroke-width="1.1"/>
<text x="37.60" y="492.90" font-size="9.6" fill="#1a1a1a" stroke="#1a1a1a" stroke-width="0.12" text-anchor="end" textLength="13.80" lengthAdjust="spacingAndGlyphs">150</text>
<line x1="42.50" y1="486.26" x2="44.40" y2="486.26" stroke="#1a1a1a" stroke-width="1.0"/>
<line x1="42.50" y1="482.62" x2="44.40" y2="482.62" stroke="#1a1a1a" stroke-width="1.0"/>
<line x1="42.50" y1="478.98" x2="44.40" y2="478.98" stroke="#1a1a1a" stroke-width="1.0"/>
<line x1="42.50" y1="475.34" x2="44.40" y2="475.34" stroke="#1a1a1a" stroke-width="1.0"/>
<line x1="40.80" y1="471.70" x2="44.40" y2="471.70" stroke="#1a1a1a" stroke-width="1.1"/>
<text x="37.60" y="474.70" font-size="9.6" fill="#1a1a1a" stroke="#1a1a1a" stroke-width="0.12" text-anchor="end" textLength="13.80" lengthAdjust="spacingAndGlyphs">200</text>
<line x1="42.50" y1="468.06" x2="44.40" y2="468.06" stroke="#1a1a1a" stroke-width="1.0"/>
<line x1="42.50" y1="464.42" x2="44.40" y2="464.42" stroke="#1a1a1a" stroke-width="1.0"/>
<line x1="42.50" y1="460.78" x2="44.40" y2="460.78" stroke="#1a1a1a" stroke-width="1.0"/>
<line x1="42.50" y1="457.14" x2="44.40" y2="457.14" stroke="#1a1a1a" stroke-width="1.0"/>
<line x1="40.80" y1="453.50" x2="44.40" y2="453.50" stroke="#1a1a1a" stroke-width="1.1"/>
<text x="37.60" y="456.50" font-size="9.6" fill="#1a1a1a" stroke="#1a1a1a" stroke-width="0.12" text-anchor="end" textLength="13.80" lengthAdjust="spacingAndGlyphs">250</text>
<line x1="42.50" y1="449.86" x2="44.40" y2="449.86" stroke="#1a1a1a" stroke-width="1.0"/>
<line x1="42.50" y1="446.22" x2="44.40" y2="446.22" stroke="#1a1a1a" stroke-width="1.0"/>
<line x1="42.50" y1="442.58" x2="44.40" y2="442.58" stroke="#1a1a1a" stroke-width="1.0"/>
<line x1="44.40" y1="544.50" x2="233.00" y2="544.50" stroke="#1a1a1a" stroke-width="1.3"/>
<line x1="56.20" y1="544.50" x2="56.20" y2="547.70" stroke="#1a1a1a" stroke-width="1.1"/>
<line x1="111.50" y1="544.50" x2="111.50" y2="547.70" stroke="#1a1a1a" stroke-width="1.1"/>
<line x1="167.20" y1="544.50" x2="167.20" y2="547.70" stroke="#1a1a1a" stroke-width="1.1"/>
<line x1="214.80" y1="544.50" x2="214.80" y2="547.70" stroke="#1a1a1a" stroke-width="1.1"/>
<line x1="45.40" y1="544.50" x2="45.40" y2="546.30" stroke="#1a1a1a" stroke-width="0.9"/>
<line x1="47.70" y1="544.50" x2="47.70" y2="546.30" stroke="#1a1a1a" stroke-width="0.9"/>
<line x1="49.20" y1="544.50" x2="49.20" y2="546.30" stroke="#1a1a1a" stroke-width="0.9"/>
<line x1="51.00" y1="544.50" x2="51.00" y2="546.30" stroke="#1a1a1a" stroke-width="0.9"/>
<line x1="53.80" y1="544.50" x2="53.80" y2="546.30" stroke="#1a1a1a" stroke-width="0.9"/>
<line x1="92.30" y1="544.50" x2="92.30" y2="546.30" stroke="#1a1a1a" stroke-width="0.9"/>
<line x1="99.20" y1="544.50" x2="99.20" y2="546.30" stroke="#1a1a1a" stroke-width="0.9"/>
<line x1="103.00" y1="544.50" x2="103.00" y2="546.30" stroke="#1a1a1a" stroke-width="0.9"/>
<line x1="106.20" y1="544.50" x2="106.20" y2="546.30" stroke="#1a1a1a" stroke-width="0.9"/>
<line x1="108.50" y1="544.50" x2="108.50" y2="546.30" stroke="#1a1a1a" stroke-width="0.9"/>
<line x1="132.30" y1="544.50" x2="132.30" y2="546.30" stroke="#1a1a1a" stroke-width="0.9"/>
<line x1="139.00" y1="544.50" x2="139.00" y2="546.30" stroke="#1a1a1a" stroke-width="0.9"/>
<line x1="144.40" y1="544.50" x2="144.40" y2="546.30" stroke="#1a1a1a" stroke-width="0.9"/>
<line x1="149.80" y1="544.50" x2="149.80" y2="546.30" stroke="#1a1a1a" stroke-width="0.9"/>
<line x1="153.20" y1="544.50" x2="153.20" y2="546.30" stroke="#1a1a1a" stroke-width="0.9"/>
<line x1="156.50" y1="544.50" x2="156.50" y2="546.30" stroke="#1a1a1a" stroke-width="0.9"/>
<line x1="159.90" y1="544.50" x2="159.90" y2="546.30" stroke="#1a1a1a" stroke-width="0.9"/>
<line x1="163.30" y1="544.50" x2="163.30" y2="546.30" stroke="#1a1a1a" stroke-width="0.9"/>
<line x1="181.40" y1="544.50" x2="181.40" y2="546.30" stroke="#1a1a1a" stroke-width="0.9"/>
<line x1="189.80" y1="544.50" x2="189.80" y2="546.30" stroke="#1a1a1a" stroke-width="0.9"/>
<line x1="195.80" y1="544.50" x2="195.80" y2="546.30" stroke="#1a1a1a" stroke-width="0.9"/>
<line x1="200.60" y1="544.50" x2="200.60" y2="546.30" stroke="#1a1a1a" stroke-width="0.9"/>
<line x1="204.40" y1="544.50" x2="204.40" y2="546.30" stroke="#1a1a1a" stroke-width="0.9"/>
<line x1="207.80" y1="544.50" x2="207.80" y2="546.30" stroke="#1a1a1a" stroke-width="0.9"/>
<line x1="210.70" y1="544.50" x2="210.70" y2="546.30" stroke="#1a1a1a" stroke-width="0.9"/>
<line x1="213.00" y1="544.50" x2="213.00" y2="546.30" stroke="#1a1a1a" stroke-width="0.9"/>
<line x1="228.50" y1="544.50" x2="228.50" y2="546.30" stroke="#1a1a1a" stroke-width="0.9"/>
<text x="105.70" y="562.70" font-size="9.4" fill="#1a1a1a" stroke="#1a1a1a" stroke-width="0.12" text-anchor="start" textLength="8.90" lengthAdjust="spacingAndGlyphs">10</text>
<text x="114.70" y="559.30" font-size="6.4" fill="#1a1a1a" stroke="#1a1a1a" stroke-width="0.12" text-anchor="start" textLength="3.30" lengthAdjust="spacingAndGlyphs">3</text>
<text x="161.60" y="562.70" font-size="9.4" fill="#1a1a1a" stroke="#1a1a1a" stroke-width="0.12" text-anchor="start" textLength="8.90" lengthAdjust="spacingAndGlyphs">10</text>
<text x="170.60" y="559.30" font-size="6.4" fill="#1a1a1a" stroke="#1a1a1a" stroke-width="0.12" text-anchor="start" textLength="3.30" lengthAdjust="spacingAndGlyphs">4</text>
<text x="237.00" y="562.90" font-size="9.2" fill="#1a1a1a" stroke="#1a1a1a" stroke-width="0.12" text-anchor="start" textLength="22.20" lengthAdjust="spacingAndGlyphs">ITGA2</text>
<polyline points="45.0,544.4 88.6,544.1 92.2,540.8 97.7,536.3 103.1,530.9 106.7,526.4 109.4,521.0 111.2,517.3 113.9,515.5 116.6,510.1 119.4,502.9 122.1,498.3 124.8,489.3 127.5,485.7 130.2,477.5 132.0,473.9 134.7,473.0 136.8,468.5 139.5,463.1 142.2,461.3 144.9,462.2 147.3,465.8 148.6,461.3 150.4,458.0 152.2,463.1 154.0,462.2 155.8,463.1 157.6,469.4 160.3,474.8 163.9,480.3 166.6,487.5 169.4,495.6 172.1,502.9 173.3,513.7 175.7,521.0 179.3,530.0 182.9,537.2 186.5,540.8 192.9,543.6 201.9,544.1 233.0,544.4" fill="none" stroke="#21417a" stroke-width="1.7" stroke-linejoin="round"/>
<polyline points="45.0,544.4 85.0,544.1 90.1,543.6 93.1,536.3 97.7,530.0 103.1,520.0 107.6,514.6 110.3,509.2 113.9,500.2 118.5,487.5 123.0,483.0 125.7,477.5 128.4,467.6 131.1,466.7 133.8,454.9 136.5,449.5 138.6,454.0 142.2,459.5 145.8,463.1 149.5,468.5 153.1,475.7 156.7,479.4 157.6,486.6 160.3,495.6 163.0,502.9 165.7,511.9 168.5,521.0 172.1,530.0 176.6,537.2 182.0,541.7 189.2,544.1 233.0,544.4" fill="none" stroke="#a6001f" stroke-width="1.8" stroke-linejoin="round" stroke-dasharray="3.8,2.2"/>
<line x1="239.00" y1="471.00" x2="254.80" y2="471.00" stroke="#21417a" stroke-width="1.8"/>
<line x1="239.00" y1="483.70" x2="254.80" y2="483.70" stroke="#a6001f" stroke-width="1.8" stroke-dasharray="3.7,2.3"/>
<text x="258.10" y="474.00" font-size="8.8" fill="#3d5d96" stroke="#3d5d96" stroke-width="0.12" text-anchor="start" textLength="18.00" lengthAdjust="spacingAndGlyphs">CTRL</text>
<text x="258.10" y="487.00" font-size="8.8" fill="#b5123a" stroke="#b5123a" stroke-width="0.12" text-anchor="start" textLength="20.00" lengthAdjust="spacingAndGlyphs">DNSR</text>
<text x="299.80" y="410.50" font-size="12.4" fill="#1a1a1a" stroke="#1a1a1a" stroke-width="0.05" text-anchor="start" textLength="6.60" lengthAdjust="spacingAndGlyphs">F</text>
<line x1="357.20" y1="415.60" x2="357.20" y2="544.90" stroke="#1a1a1a" stroke-width="1.3"/>
<line x1="353.60" y1="418.60" x2="357.20" y2="418.60" stroke="#1a1a1a" stroke-width="1.1"/>
<text x="350.60" y="421.60" font-size="9.6" fill="#1a1a1a" stroke="#1a1a1a" stroke-width="0.12" text-anchor="end" textLength="13.80" lengthAdjust="spacingAndGlyphs">110</text>
<line x1="353.60" y1="443.75" x2="357.20" y2="443.75" stroke="#1a1a1a" stroke-width="1.1"/>
<text x="350.60" y="446.75" font-size="9.6" fill="#1a1a1a" stroke="#1a1a1a" stroke-width="0.12" text-anchor="end" textLength="13.80" lengthAdjust="spacingAndGlyphs">100</text>
<line x1="353.60" y1="468.90" x2="357.20" y2="468.90" stroke="#1a1a1a" stroke-width="1.1"/>
<text x="350.60" y="471.90" font-size="9.6" fill="#1a1a1a" stroke="#1a1a1a" stroke-width="0.12" text-anchor="end" textLength="9.20" lengthAdjust="spacingAndGlyphs">90</text>
<line x1="353.60" y1="494.05" x2="357.20" y2="494.05" stroke="#1a1a1a" stroke-width="1.1"/>
<text x="350.60" y="497.05" font-size="9.6" fill="#1a1a1a" stroke="#1a1a1a" stroke-width="0.12" text-anchor="end" textLength="9.20" lengthAdjust="spacingAndGlyphs">80</text>
<line x1="353.60" y1="519.20" x2="357.20" y2="519.20" stroke="#1a1a1a" stroke-width="1.1"/>
<text x="350.60" y="522.20" font-size="9.6" fill="#1a1a1a" stroke="#1a1a1a" stroke-width="0.12" text-anchor="end" textLength="9.20" lengthAdjust="spacingAndGlyphs">70</text>
<line x1="353.60" y1="544.35" x2="357.20" y2="544.35" stroke="#1a1a1a" stroke-width="1.1"/>
<text x="350.60" y="547.35" font-size="9.6" fill="#1a1a1a" stroke="#1a1a1a" stroke-width="0.12" text-anchor="end" textLength="9.20" lengthAdjust="spacingAndGlyphs">60</text>
<path d="M370.7,544.3 V443.8 H396.1 V544.3" fill="none" stroke="#6a84b0" stroke-width="1.45"/>
<path d="M408.3,544.3 V509.2 H433.8 V544.3" fill="none" stroke="#c63a5e" stroke-width="1.45"/>
<line x1="356.60" y1="544.30" x2="445.80" y2="544.30" stroke="#1a1a1a" stroke-width="1.3"/>
<line x1="383.20" y1="544.30" x2="383.20" y2="547.50" stroke="#1a1a1a" stroke-width="1.1"/>
<line x1="420.90" y1="544.30" x2="420.90" y2="547.50" stroke="#1a1a1a" stroke-width="1.1"/>
<circle cx="373" cy="443.8" r="2.15" fill="#1d3f7c"/>
<circle cx="379.6" cy="443.8" r="2.15" fill="#1d3f7c"/>
<circle cx="386.5" cy="443.8" r="2.15" fill="#1d3f7c"/>
<circle cx="393.8" cy="443.8" r="2.15" fill="#1d3f7c"/>
<line x1="421.00" y1="500.40" x2="421.00" y2="516.50" stroke="#1a1a1a" stroke-width="1.2"/>
<line x1="415.20" y1="500.40" x2="426.80" y2="500.40" stroke="#1a1a1a" stroke-width="1.3"/>
<line x1="415.20" y1="516.50" x2="426.80" y2="516.50" stroke="#1a1a1a" stroke-width="1.3"/>
<circle cx="421" cy="489.4" r="2.25" fill="#a8002a"/>
<circle cx="421" cy="505.1" r="2.25" fill="#a8002a"/>
<circle cx="421" cy="511.4" r="2.25" fill="#a8002a"/>
<circle cx="421" cy="528.5" r="2.25" fill="#a8002a"/>
<path d="M383.2,427.8 V420.1 H421.2 V427.8" fill="none" stroke="#1a1a1a" stroke-width="1.2"/>
<circle cx="400.40" cy="416.2" r="1.25" fill="#2a2a2a"/>
<circle cx="404.00" cy="416.2" r="1.25" fill="#2a2a2a"/>
<text transform="translate(389.55,555.05) rotate(-38)" font-size="9.4" fill="#1a1a1a" stroke="#1a1a1a" stroke-width="0.12" text-anchor="end" textLength="19.23" lengthAdjust="spacingAndGlyphs">CTRL</text>
<text transform="translate(425.25,555.45) rotate(-38)" font-size="9.4" fill="#1a1a1a" stroke="#1a1a1a" stroke-width="0.12" text-anchor="end" textLength="20.83" lengthAdjust="spacingAndGlyphs">DNSR</text>
<text transform="translate(316.8,479.75) rotate(-90)" font-size="10.4" fill="#1a1a1a" stroke="#1a1a1a" stroke-width="0.12" text-anchor="middle" textLength="112.40" lengthAdjust="spacingAndGlyphs">ITGA2 surface expression</text>
<text transform="translate(328.9,480.25) rotate(-90)" font-size="10.4" fill="#1a1a1a" stroke="#1a1a1a" stroke-width="0.12" text-anchor="middle" textLength="121.00" lengthAdjust="spacingAndGlyphs">on human MKs (% of CTRL)</text>
<rect x="0" y="0" width="520" height="1.5" fill="#262626"/>
<rect x="0" y="0" width="1.6" height="581" fill="#262626"/>
<rect x="518.1" y="0" width="1.9" height="581" fill="#262626"/>
<rect x="0" y="579.1" width="520" height="1.9" fill="#262626"/>
</svg>
</body></html>
